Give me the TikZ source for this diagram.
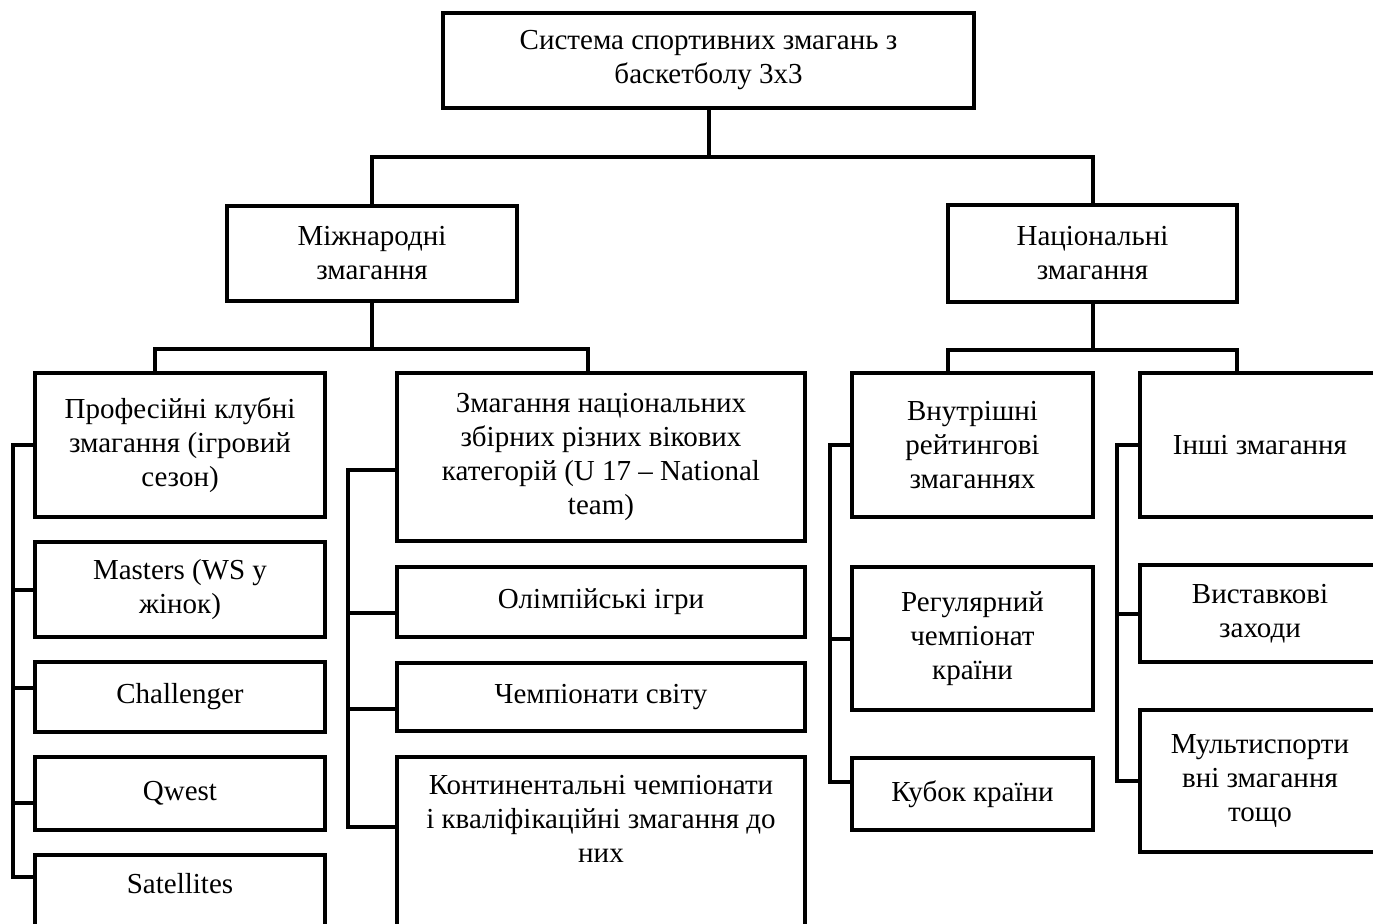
\documentclass[tikz,border=0pt]{standalone}
\usepackage{fontspec}
\setmainfont{Liberation Serif}
\usepackage{tikz}
\usetikzlibrary{positioning}
\tikzstyle{block} = [rectangle, draw=black, line width=2pt, outer sep=0pt, inner sep=2pt, align=center, font=\fontsize{14.5}{17}\selectfont]
\tikzstyle{open block} = [text depth=90pt, inner ysep=9pt]
\tikzstyle{colA} = [minimum width=145pt]
\tikzstyle{colB} = [minimum width=204pt]
\tikzstyle{colC} = [minimum width=120.5pt]
\tikzstyle{colD} = [minimum width=120pt]
\tikzstyle{link} = [line width=2pt]

\begin{document}
\begin{tikzpicture}[x=0.5pt, y=-0.5pt]
		\useasboundingbox (0,0) rectangle (1373,923);
		\clip (0,0) rectangle (1373,923);
		% top levels
		\node (System)[block, minimum width=265.5pt, minimum height=47.5pt] at (708.5,60.5) {Система спортивних змагань з\\баскетболу 3x3};
		\node (International)[block, minimum width=145pt, minimum height=47.5pt] at (372,253.5) {Міжнародні\\змагання};
		\node (National)[block, minimum width=144.5pt, minimum height=48.5pt] at (1092.5,253.5) {Національні\\змагання};
		% club column
		\node (Club)[block, colA, minimum height=72pt, anchor=north west] at (35,373) {Професійні клубні\\змагання (ігровий\\сезон)};
		\node (Masters)[block, colA, minimum height=47.5pt, below=12.5pt of Club]{Masters (WS у\\жінок)};
		\node (Challenger)[block, colA, minimum height=35pt, below=12.5pt of Masters]{Challenger};
		\node (Qwest)[block, colA, minimum height=36.5pt, below=12.5pt of Challenger]{Qwest};
		\node (Satellites)[block, colA, open block, below=12.5pt of Qwest]{Satellites};
		% national teams column
		\node (Teams)[block, colB, minimum height=84pt, anchor=north west] at (397,373) {Змагання національних\\збірних різних вікових\\категорій (U 17 – National\\team)};
		\node (Olympics)[block, colB, minimum height=35pt, below=13pt of Teams]{Олімпійські ігри};
		\node (Worlds)[block, colB, minimum height=34pt, below=13pt of Olympics]{Чемпіонати світу};
		\node (Continental)[block, colB, open block, below=13pt of Worlds]{Континентальні чемпіонати\\і кваліфікаційні змагання до\\них};
		% domestic column
		\node (Rating)[block, colC, minimum height=72pt, anchor=north west] at (852,373) {Внутрішні\\рейтингові\\змаганнях};
		\node (Regular)[block, colC, minimum height=71.5pt, below=25pt of Rating]{Регулярний\\чемпіонат\\країни};
		\node (Cup)[block, colC, minimum height=36pt, below=24pt of Regular]{Кубок країни};
		% other column
		\node (Other)[block, colD, minimum height=72pt, anchor=north west] at (1140,373) {Інші змагання};
		\node (Exhibition)[block, colD, minimum height=48.5pt, below=24pt of Other]{Виставкові\\заходи};
		\node (Multisport)[block, colD, minimum height=71pt, below=24pt of Exhibition]{Мультиспорти\\вні змагання\\тощо};
		% forks
		\draw [link] (System.south) -- ++(0,49) coordinate (System Fork);
		\draw [link] (International.north) |- (System Fork) -| (National.north);
		\draw [link] (International.south) -- ++(0,48) coordinate (International Fork);
		\draw [link] ([xshift=-12.5pt]Club.north) |- (International Fork) -| ([xshift=-6.5pt]Teams.north);
		\draw [link] (National.south) -- ++(0,48) coordinate (National Fork);
		\draw [link] ([xshift=-12.25pt]Rating.north) |- (National Fork) -| ([xshift=-11.5pt]Other.north);
		% rails
		\draw [link] (Club.west) -- ++(-22,0) |- ([yshift=-11pt]Satellites.north west);
		\draw [link] (Masters.west) -- ++(-22,0);
		\draw [link] ([yshift=4.5pt]Challenger.west) -- ++(-22,0);
		\draw [link] ([yshift=-4.75pt]Qwest.west) -- ++(-22,0);
		\draw [link] ([yshift=-6.25pt]Teams.west) -- ++(-49,0) |- ([yshift=-35pt]Continental.north west);
		\draw [link] ([yshift=-5.25pt]Olympics.west) -- ++(-49,0);
		\draw [link] ([yshift=-6pt]Worlds.west) -- ++(-49,0);
		\draw [link] (Rating.west) -- ++(-22,0) |- ([yshift=6pt]Cup.west);
		\draw [link] (Regular.west) -- ++(-22,0);
		\draw [link] (Other.west) -- ++(-23,0) |- (Multisport.west);
		\draw [link] (Exhibition.west) -- ++(-23,0);
	\end{tikzpicture}
\end{document}
